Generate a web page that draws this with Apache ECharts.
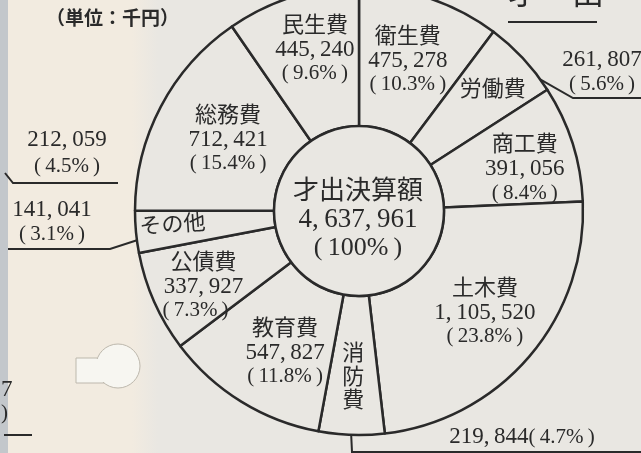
<!DOCTYPE html>
<html>
<head>
<meta charset="utf-8">
<script src="https://cdn.jsdelivr.net/npm/echarts@6/dist/echarts.min.js"></script>
<style>
  html, body { margin: 0; padding: 0; background: #e9e7e2; }
  #main { width: 641px; height: 453px; }
</style>
</head>
<body>
<div id="main"></div>
<script>
// 才出決算額 (単位：千円), clockwise from 12 o'clock
var names    = ['衛生費', '労働費', '商工費', '土木費', '消防費', '教育費', '公債費', 'その他', '総務費', '民生費'];
var values   = [475278, 261807, 391056, 1105520, 219844, 547827, 337927, 141041, 712421, 445240];
var percents = [10.3, 5.6, 8.4, 23.8, 4.7, 11.8, 7.3, 3.1, 15.4, 9.6];
var totalName = '才出決算額';
var totalValue = 4637961;
// leftover figures of the neighbouring chart (cut off at the left edge)
var sideValue = 212059;
var sidePercent = 4.5;

var FONT = '"Liberation Serif", "Noto Sans CJK JP", serif';
var INK = '#2a2a2a';
var PAPER = '#e9e7e2';
var CX = 359, CY = 211, R0 = 85, R1 = 224;

// names whose figures sit outside the ring on a leader line
var outside = { '労働費': 1, '消防費': 1, 'その他': 1 };

// where each inside label sits: [angle from top clockwise, radius]
var inPos = {
    '衛生費': [18, 158], '労働費': [48, 180], '商工費': [75.8, 171], '土木費': [129, 162],
    '消防費': [182, 167], '教育費': [207.5, 160], '公債費': [244, 173], 'その他': [265.4, 187],
    '総務費': [298.5, 149], '民生費': [344.7, 167]
};
// outside figures: text centre, leader start angle, elbow, end
var outPos = {
    '労働費': { text: [602, 72], a: 54, elbow: [573, 98], end: [641, 98] },
    '消防費': { text: [522, 437], a: 182, elbow: [352, 452], end: [641, 452] },
    'その他': { text: [52, 222], a: 262.5, elbow: [110, 249], end: [8, 249] }
};

function polar(a, r) {
    var t = a * Math.PI / 180;
    return [CX + r * Math.sin(t), CY - r * Math.cos(t)];
}
function fmt(v) {
    return String(v).replace(/\B(?=(\d{3})+(?!\d))/g, ',\u2009');
}
function pct(p) {
    return '(\u2009' + p.toFixed(1) + '%\u2009)';
}

var rich = {
    n: { fontSize: 22, fontFamily: FONT, color: INK, lineHeight: 24 },
    v: { fontSize: 23, fontFamily: FONT, color: INK, lineHeight: 24 },
    p: { fontSize: 21, fontFamily: FONT, color: INK, lineHeight: 24 },
    pl: { fontSize: 21, fontFamily: FONT, color: INK, lineHeight: 24, padding: [0, 16, 0, 0] },
    c: { fontSize: 26, fontFamily: FONT, color: INK, lineHeight: 28 },
    cv: { fontSize: 27, fontFamily: FONT, color: INK, lineHeight: 28 },
    s: { fontSize: 22, fontFamily: FONT, color: INK, lineHeight: 23.5 }
};

var ringData = names.map(function (n, i) { return { name: n, value: values[i] }; });

var chart = echarts.init(document.getElementById('main'));
chart.setOption({
    backgroundColor: PAPER,
    animation: false,
    graphic: [
        { type: 'rect', z: -10, shape: { x: 8, y: 0, width: 124, height: 453 }, style: { fill: '#f2ebe0' } },
        { type: 'rect', z: -10, shape: { x: 132, y: 0, width: 26, height: 453 },
          style: { fill: new echarts.graphic.LinearGradient(0, 0, 1, 0, [
              { offset: 0, color: '#f2ebe0' }, { offset: 1, color: PAPER }]) } },
        { type: 'rect', z: -10, shape: { x: 0, y: 0, width: 8, height: 453 }, style: { fill: '#c3c7cb' } },
        { type: 'text', x: 46, y: 18, style: { text: '（単位：千円）', font: 'bold 19px "Noto Sans CJK JP"',
          fill: INK, verticalAlign: 'middle' } },
        { type: 'text', x: 556, y: 12, style: { text: '才　出', font: '32px ' + FONT, fill: INK,
          align: 'center', verticalAlign: 'bottom' } },
        { type: 'line', shape: { x1: 508, y1: 22, x2: 597, y2: 22 }, style: { stroke: INK, lineWidth: 2 } },
        { type: 'text', x: 67, y: 140, style: { text: fmt(sideValue), font: '23px ' + FONT, fill: INK,
          align: 'center', verticalAlign: 'middle' } },
        { type: 'text', x: 67, y: 166, style: { text: pct(sidePercent), font: '21px ' + FONT, fill: INK,
          align: 'center', verticalAlign: 'middle' } },
        { type: 'polyline', shape: { points: [[5, 173], [13, 183], [118, 183]] }, style: { stroke: INK, lineWidth: 2, fill: null } },
        { type: 'text', x: 1, y: 390, style: { text: '7', font: '23px ' + FONT, fill: INK, verticalAlign: 'middle' } },
        { type: 'text', x: 1, y: 413, style: { text: ')', font: '21px ' + FONT, fill: INK, verticalAlign: 'middle' } },
        { type: 'line', shape: { x1: 4, y1: 435, x2: 32, y2: 435 }, style: { stroke: INK, lineWidth: 2 } },
        // punch hole
        { type: 'rect', shape: { x: 76, y: 358, width: 34, height: 25 }, style: { fill: '#f7f6f1', stroke: '#bdb8ad', lineWidth: 1 } },
        { type: 'circle', shape: { cx: 118, cy: 366, r: 22 }, style: { fill: '#f7f6f1', stroke: '#bdb8ad', lineWidth: 1 } },
        { type: 'rect', shape: { x: 77, y: 359, width: 30, height: 23 }, style: { fill: '#f7f6f1' } }
    ],
    series: [
        {
            // the ring
            type: 'pie',
            center: [CX, CY],
            radius: [R0, R1],
            startAngle: 90,
            clockwise: true,
            silent: true,
            avoidLabelOverlap: false,
            itemStyle: { color: PAPER, borderColor: INK, borderWidth: 2.5 },
            label: {
                show: true,
                position: 'inside',
                rich: rich,
                formatter: function (p) {
                    var i = p.dataIndex;
                    if (p.name === '消防費') return '{s|消}\n{s|防}\n{s|費}';
                    if (outside[p.name]) return '{n|' + p.name + '}';
                    var ps = p.name === '公債費' ? 'pl' : 'p';
                    return '{n|' + p.name + '}\n{v|' + fmt(values[i]) + '}\n{' + ps + '|' + pct(percents[i]) + '}';
                }
            },
            labelLine: { show: false },
            labelLayout: function (params) {
                var q = inPos[names[params.dataIndex]];
                var xy = polar(q[0], q[1]);
                var out = { x: xy[0], y: xy[1], align: 'center', verticalAlign: 'middle' };
                if (names[params.dataIndex] === 'その他') out.rotate = 4;
                return out;
            },
            data: ringData
        },
        {
            // figures outside the ring with leader lines
            type: 'pie',
            center: [CX, CY],
            radius: [R0, R1],
            startAngle: 90,
            clockwise: true,
            silent: true,
            avoidLabelOverlap: false,
            itemStyle: { color: 'rgba(0,0,0,0)', borderWidth: 0 },
            label: {
                show: true,
                position: 'outside',
                rich: rich,
                formatter: function (p) {
                    var i = p.dataIndex;
                    if (!outside[p.name]) return '';
                    var sep = p.name === '消防費' ? '' : '\n';
                    return '{v|' + fmt(values[i]) + '}' + sep + '{p|' + pct(percents[i]) + '}';
                }
            },
            labelLine: { show: true, lineStyle: { color: INK, width: 2 } },
            labelLayout: function (params) {
                var o = outPos[names[params.dataIndex]];
                if (!o) return { x: -100, y: -100, labelLinePoints: [[-100, -100], [-100, -100], [-100, -100]] };
                return {
                    x: o.text[0], y: o.text[1], align: 'center', verticalAlign: 'middle',
                    labelLinePoints: [polar(o.a, R1), o.elbow, o.end]
                };
            },
            data: ringData
        },
        {
            // centre disc
            type: 'pie',
            center: [CX, CY],
            radius: [0, R0],
            silent: true,
            itemStyle: { color: PAPER, borderColor: INK, borderWidth: 2.5 },
            label: {
                show: true,
                position: 'center',
                rich: rich,
                formatter: '{c|' + totalName + '}\n{cv|' + fmt(totalValue) + '}\n{c|(\u2009100%\u2009)}'
            },
            labelLayout: function () {
                return { x: 358, y: 220, align: 'center', verticalAlign: 'middle' };
            },
            data: [{ name: totalName, value: totalValue }]
        }
    ]
});
</script>
</body>
</html>
